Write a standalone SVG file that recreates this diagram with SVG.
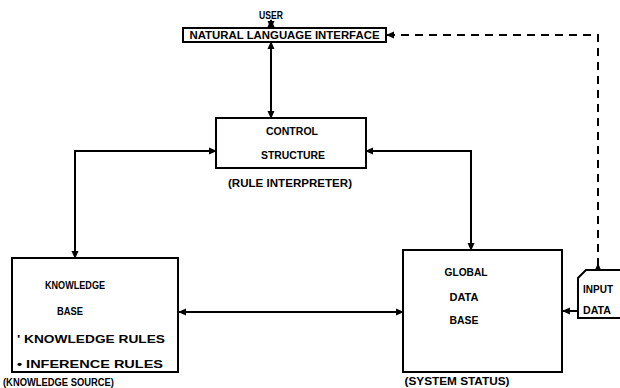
<svg xmlns="http://www.w3.org/2000/svg" width="620" height="388" viewBox="0 0 620 388">
<defs>
<style>
.box{fill:#fff;stroke:#000;stroke-width:2}
.ln{fill:none;stroke:#000;stroke-width:2}
.dash{fill:none;stroke:#000;stroke-width:2;stroke-dasharray:8,6}
text{font-family:"Liberation Sans",Arial,sans-serif;font-weight:bold;font-size:10px;fill:#000}
</style>
<marker id="a" markerWidth="8" markerHeight="8" refX="7" refY="4" orient="auto-start-reverse" markerUnits="userSpaceOnUse">
<path d="M0,0.5 L8,4 L0,7.5 Z" fill="#000"/>
</marker>
<marker id="b" markerWidth="8" markerHeight="8" refX="7" refY="4" orient="auto" markerUnits="userSpaceOnUse">
<path d="M8,0.5 L0,4 L8,7.5 Z" fill="#000"/>
</marker>
</defs>
<g id="connectors">
<path class="ln" d="M271,28 V20" marker-end="url(#a)" marker-start="url(#a)"/>
<path class="ln" d="M271,42 V118" marker-start="url(#a)" marker-end="url(#a)"/>
<path class="ln" d="M216,151 H75 V258" marker-start="url(#a)" marker-end="url(#a)"/>
<path class="ln" d="M366,151 H471 V250" marker-start="url(#a)" marker-end="url(#a)"/>
<path class="ln" d="M179,312 H403" marker-start="url(#a)" marker-end="url(#a)"/>
<path class="ln" d="M563,311 H578" marker-start="url(#a)"/>
<path class="dash" d="M387,35 H598 V270" marker-start="url(#a)" marker-end="url(#b)"/>
</g>
<g id="user">
<text x="271" y="19" text-anchor="middle" textLength="24" lengthAdjust="spacingAndGlyphs">USER</text>
</g>
<g id="nli">
<rect class="box" x="183" y="28" width="203" height="14"/>
<text x="284.5" y="39" text-anchor="middle" textLength="190" lengthAdjust="spacingAndGlyphs" font-size="9">NATURAL LANGUAGE INTERFACE</text>
</g>
<g id="control">
<rect class="box" x="216" y="118" width="150" height="50"/>
<text x="292" y="135" text-anchor="middle" textLength="52" lengthAdjust="spacingAndGlyphs">CONTROL</text>
<text x="293" y="159" text-anchor="middle" textLength="64" lengthAdjust="spacingAndGlyphs">STRUCTURE</text>
<text x="290" y="187" text-anchor="middle" textLength="124" lengthAdjust="spacingAndGlyphs">(RULE INTERPRETER)</text>
</g>
<g id="knowledge">
<rect class="box" x="12" y="258" width="166" height="114"/>
<text x="75" y="289" text-anchor="middle" textLength="60" lengthAdjust="spacingAndGlyphs">KNOWLEDGE</text>
<text x="70" y="315" text-anchor="middle" textLength="26" lengthAdjust="spacingAndGlyphs">BASE</text>
<text x="17" y="343" textLength="148" lengthAdjust="spacingAndGlyphs">' KNOWLEDGE RULES</text>
<text x="17" y="368" textLength="146" lengthAdjust="spacingAndGlyphs">• INFERENCE RULES</text>
<text x="3" y="386" textLength="111" lengthAdjust="spacingAndGlyphs">(KNOWLEDGE SOURCE)</text>
</g>
<g id="global">
<rect class="box" x="403" y="250" width="159" height="122"/>
<text x="466" y="276" text-anchor="middle" textLength="43" lengthAdjust="spacingAndGlyphs">GLOBAL</text>
<text x="464" y="301" text-anchor="middle" textLength="29" lengthAdjust="spacingAndGlyphs">DATA</text>
<text x="464" y="324" text-anchor="middle" textLength="29" lengthAdjust="spacingAndGlyphs">BASE</text>
<text x="457" y="385" text-anchor="middle" textLength="105" lengthAdjust="spacingAndGlyphs">(SYSTEM STATUS)</text>
</g>
<g id="input">
<path class="ln" d="M620,270 H586 L578,278 V318 H620"/>
<text x="583" y="293" textLength="30" lengthAdjust="spacingAndGlyphs">INPUT</text>
<text x="583" y="314" textLength="28" lengthAdjust="spacingAndGlyphs">DATA</text>
</g>
</svg>
